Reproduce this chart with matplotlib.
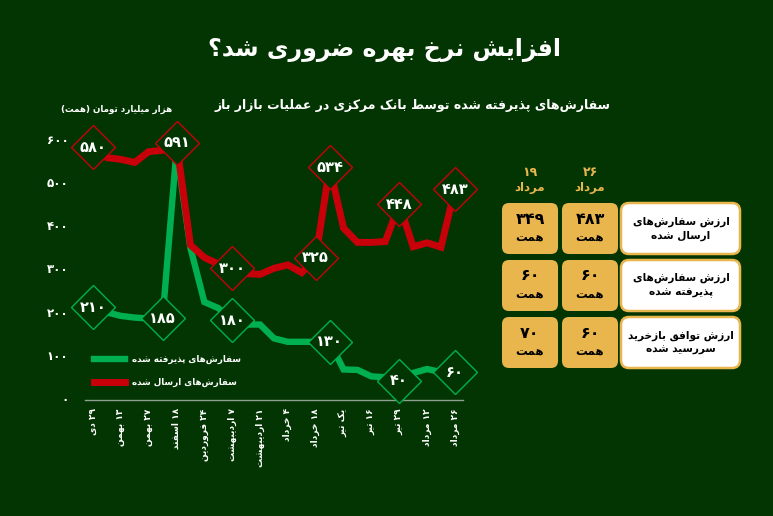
import re
import matplotlib
matplotlib.use("Agg")
import matplotlib.pyplot as plt
from matplotlib.patches import FancyBboxPatch

plt.rcParams['font.family'] = ['DejaVu Sans']

# ---------------- data ----------------
x_labels = ["۲۹ دی", "۱۳ بهمن", "۲۷ بهمن", "۱۸ اسفند", "۲۴ فروردین", "۷ اردیبهشت",
            "۲۱ اردیبهشت", "۴ خرداد", "۱۸ خرداد", "یک تیر", "۱۶ تیر", "۲۹ تیر",
            "۱۲ مرداد", "۲۶ مرداد"]
sent = [580, 556, 552, 545, 570, 573, 591, 354, 325, 310, 300, 288, 286, 300,
        308, 290, 325, 534, 393, 360, 360, 362, 448, 350, 359, 349, 483]
accepted = [210, 198, 190, 186, 184, 185, 575, 347, 222, 208, 180, 170, 170, 138,
            130, 130, 130, 130, 66, 65, 50, 48, 40, 58, 67, 60, 60]
sent_label_idx = [0, 6, 10, 16, 17, 22, 26]
acc_label_idx = [0, 5, 10, 17, 22, 26]
y_ticks = [0, 100, 200, 300, 400, 500, 600]

title = "افزایش نرخ بهره ضروری شد؟"
subtitle = "سفارش\u200cهای پذیرفته شده توسط بانک مرکزی در عملیات بازار باز"
unit = "هزار میلیارد تومان (همت)"
legend_acc = "سفارش\u200cهای پذیرفته شده"
legend_sent = "سفارش\u200cهای ارسال شده"

tbl_dates = ["۱۹\nمرداد", "۲۶\nمرداد"]
tbl_rows = ["ارزش سفارش\u200cهای\nارسال شده", "ارزش سفارش\u200cهای\nپذیرفته شده",
            "ارزش توافق بازخرید\nسررسید شده"]
tbl_vals = [[349, 483], [60, 60], [70, 60]]
tbl_unit = "همت"

# ---------------- Persian shaping helpers ----------------
FORMS = {
    'ا': ('\uFE8D', '\uFE8E', None, None), 'آ': ('\uFE81', '\uFE82', None, None),
    'ب': ('\uFE8F', '\uFE90', '\uFE91', '\uFE92'), 'پ': ('\uFB56', '\uFB57', '\uFB58', '\uFB59'),
    'ت': ('\uFE95', '\uFE96', '\uFE97', '\uFE98'), 'ث': ('\uFE99', '\uFE9A', '\uFE9B', '\uFE9C'),
    'ج': ('\uFE9D', '\uFE9E', '\uFE9F', '\uFEA0'), 'چ': ('\uFB7A', '\uFB7B', '\uFB7C', '\uFB7D'),
    'ح': ('\uFEA1', '\uFEA2', '\uFEA3', '\uFEA4'), 'خ': ('\uFEA5', '\uFEA6', '\uFEA7', '\uFEA8'),
    'د': ('\uFEA9', '\uFEAA', None, None), 'ذ': ('\uFEAB', '\uFEAC', None, None),
    'ر': ('\uFEAD', '\uFEAE', None, None), 'ز': ('\uFEAF', '\uFEB0', None, None),
    'ژ': ('\uFB8A', '\uFB8B', None, None),
    'س': ('\uFEB1', '\uFEB2', '\uFEB3', '\uFEB4'), 'ش': ('\uFEB5', '\uFEB6', '\uFEB7', '\uFEB8'),
    'ص': ('\uFEB9', '\uFEBA', '\uFEBB', '\uFEBC'), 'ض': ('\uFEBD', '\uFEBE', '\uFEBF', '\uFEC0'),
    'ط': ('\uFEC1', '\uFEC2', '\uFEC3', '\uFEC4'), 'ظ': ('\uFEC5', '\uFEC6', '\uFEC7', '\uFEC8'),
    'ع': ('\uFEC9', '\uFECA', '\uFECB', '\uFECC'), 'غ': ('\uFECD', '\uFECE', '\uFECF', '\uFED0'),
    'ف': ('\uFED1', '\uFED2', '\uFED3', '\uFED4'), 'ق': ('\uFED5', '\uFED6', '\uFED7', '\uFED8'),
    'ک': ('\uFB8E', '\uFB8F', '\uFB90', '\uFB91'), 'گ': ('\uFB92', '\uFB93', '\uFB94', '\uFB95'),
    'ل': ('\uFEDD', '\uFEDE', '\uFEDF', '\uFEE0'), 'م': ('\uFEE1', '\uFEE2', '\uFEE3', '\uFEE4'),
    'ن': ('\uFEE5', '\uFEE6', '\uFEE7', '\uFEE8'), 'ه': ('\uFEE9', '\uFEEA', '\uFEEB', '\uFEEC'),
    'و': ('\uFEED', '\uFEEE', None, None),
    'ی': ('\uFBFC', '\uFBFD', '\uFBFE', '\uFBFF'),
}


def _joins_next(c):
    f = FORMS.get(c)
    return f is not None and f[2] is not None


def shape(s):
    res = []
    n = len(s)
    i = 0
    while i < n:
        c = s[i]
        if c not in FORMS:
            res.append(c)
            i += 1
            continue
        prev = s[i - 1] if i > 0 else None
        nxt = s[i + 1] if i + 1 < n else None
        cp = prev is not None and _joins_next(prev)
        if c == 'ل' and nxt in ('ا', 'آ'):
            res.append('\uFEFC' if cp else '\uFEFB')
            i += 2
            continue
        cn = _joins_next(c) and nxt is not None and nxt in FORMS
        iso, fin, ini, med = FORMS[c]
        if cp and cn:
            res.append(med)
        elif cp:
            res.append(fin)
        elif cn:
            res.append(ini)
        else:
            res.append(iso)
        i += 1
    return ''.join(res).replace('\u200c', '')


def rtl(s):
    out = []
    mirror = {'(': ')', ')': '('}
    for line in s.split('\n'):
        toks = re.findall(r'[0-9\u06F0-\u06F9]+|.', shape(line))
        out.append(''.join(mirror.get(t, t) for t in toks[::-1]))
    return '\n'.join(out)


def fa(n):
    return str(n).translate(str.maketrans('0123456789', '۰۱۲۳۴۵۶۷۸۹'))


# ---------------- figure ----------------
BG = '#023502'
RED = '#c8000a'
GREEN = '#00b050'
GOLD = '#e9b54d'
W, H = 773, 516

fig = plt.figure(figsize=(W / 100, H / 100), dpi=100, facecolor=BG)

# overlay in pixel coordinates (top-left origin)
ov = fig.add_axes([0, 0, 1, 1], zorder=0)
ov.set_xlim(0, W)
ov.set_ylim(H, 0)
ov.axis('off')
ov.patch.set_alpha(0)

ax = fig.add_axes([85 / W, 116 / H, 378 / W, 270 / H], zorder=1)
ax.set_facecolor('none')
xs = list(range(len(sent)))
ax.plot(xs, accepted, color=GREEN, lw=4.6, solid_joinstyle='miter', zorder=2, label=rtl(legend_acc))
ax.plot(xs, sent, color=RED, lw=5.0, solid_joinstyle='miter', zorder=2.1, label=rtl(legend_sent))

for idx in acc_label_idx:
    ax.plot(idx, accepted[idx], 'D', ms=22.5, mfc=BG, mec=GREEN, mew=1.0, clip_on=False, zorder=3)
    ax.text(idx, accepted[idx], fa(accepted[idx]), color='white', fontsize=10.5, fontweight='bold',
            ha='center', va='center', zorder=4, clip_on=False)
for idx in sent_label_idx:
    ax.plot(idx, sent[idx], 'D', ms=22.5, mfc=BG, mec=RED, mew=1.0, clip_on=False, zorder=3)
    ax.text(idx, sent[idx], fa(sent[idx]), color='white', fontsize=10.5, fontweight='bold',
            ha='center', va='center', zorder=4, clip_on=False)

ax.set_xlim(-0.575, 26.58)
ax.set_ylim(-4.6, 620)
ax.set_xticks(xs[::2])
ax.set_xticklabels([rtl(l) for l in x_labels], rotation=90, color='white', fontsize=6.5,
                   fontweight='bold', ha='center', va='top')
ax.set_yticks(y_ticks)
ax.set_yticklabels([fa(v) for v in y_ticks], color='white', fontsize=8.5, fontweight='bold')
ax.tick_params(axis='both', length=0)
ax.tick_params(axis='y', pad=12)
ax.tick_params(axis='x', pad=6)
for s in ['left', 'right', 'top']:
    ax.spines[s].set_visible(False)
ax.spines['bottom'].set_color('#8ea08e')
ax.spines['bottom'].set_linewidth(1)

leg = ax.legend(loc='upper left', bbox_to_anchor=(86 / W, 1 - 347 / H), bbox_transform=fig.transFigure,
                frameon=False, handlelength=3.6, handletextpad=0.7, labelspacing=1.6,
                prop={'weight': 'bold', 'size': 6.3})
for t in leg.get_texts():
    t.set_color('white')

# titles
ov.text(384, 50, rtl(title), color='white', fontsize=17, fontweight='bold', ha='center', va='center')
ov.text(413, 106, rtl(subtitle), color='white', fontsize=9, fontweight='bold', ha='center', va='center')
ov.text(117, 109, rtl(unit), color='white', fontsize=6.3, fontweight='bold', ha='center', va='center')

# table
col_x = [502, 562]
col_w = 56
row_y = [203, 260, 317]
row_h = 51
for j, d in enumerate(tbl_dates):
    cx = col_x[j] + col_w / 2
    num, word = d.split('\n')
    ov.text(cx, 173, rtl(num), color=GOLD, fontsize=9, fontweight='bold', ha='center', va='center')
    ov.text(cx, 188, rtl(word), color=GOLD, fontsize=8.5, fontweight='bold', ha='center', va='center')

for i, lab in enumerate(tbl_rows):
    y0 = row_y[i]
    for j in range(2):
        ov.add_patch(FancyBboxPatch((col_x[j] + 5, y0 + 5), col_w - 10, row_h - 10,
                                    boxstyle='round,pad=5,rounding_size=7', fc=GOLD, ec='none'))
        cx = col_x[j] + col_w / 2
        ov.text(cx, y0 + 16, fa(tbl_vals[i][j]), color='black', fontsize=11.5, fontweight='bold',
                ha='center', va='center')
        ov.text(cx, y0 + 35, rtl(tbl_unit), color='black', fontsize=8.5, fontweight='bold',
                ha='center', va='center')
    ov.add_patch(FancyBboxPatch((627, y0 + 6), 107, row_h - 12,
                                boxstyle='round,pad=6,rounding_size=8', fc='white', ec=GOLD, lw=1.8))
    ov.text(681, y0 + row_h / 2, rtl(lab), color='black', fontsize=7.6, fontweight='bold',
            ha='center', va='center', multialignment='center', linespacing=1.45)

fig.savefig('out.png', dpi=100, facecolor=BG)
